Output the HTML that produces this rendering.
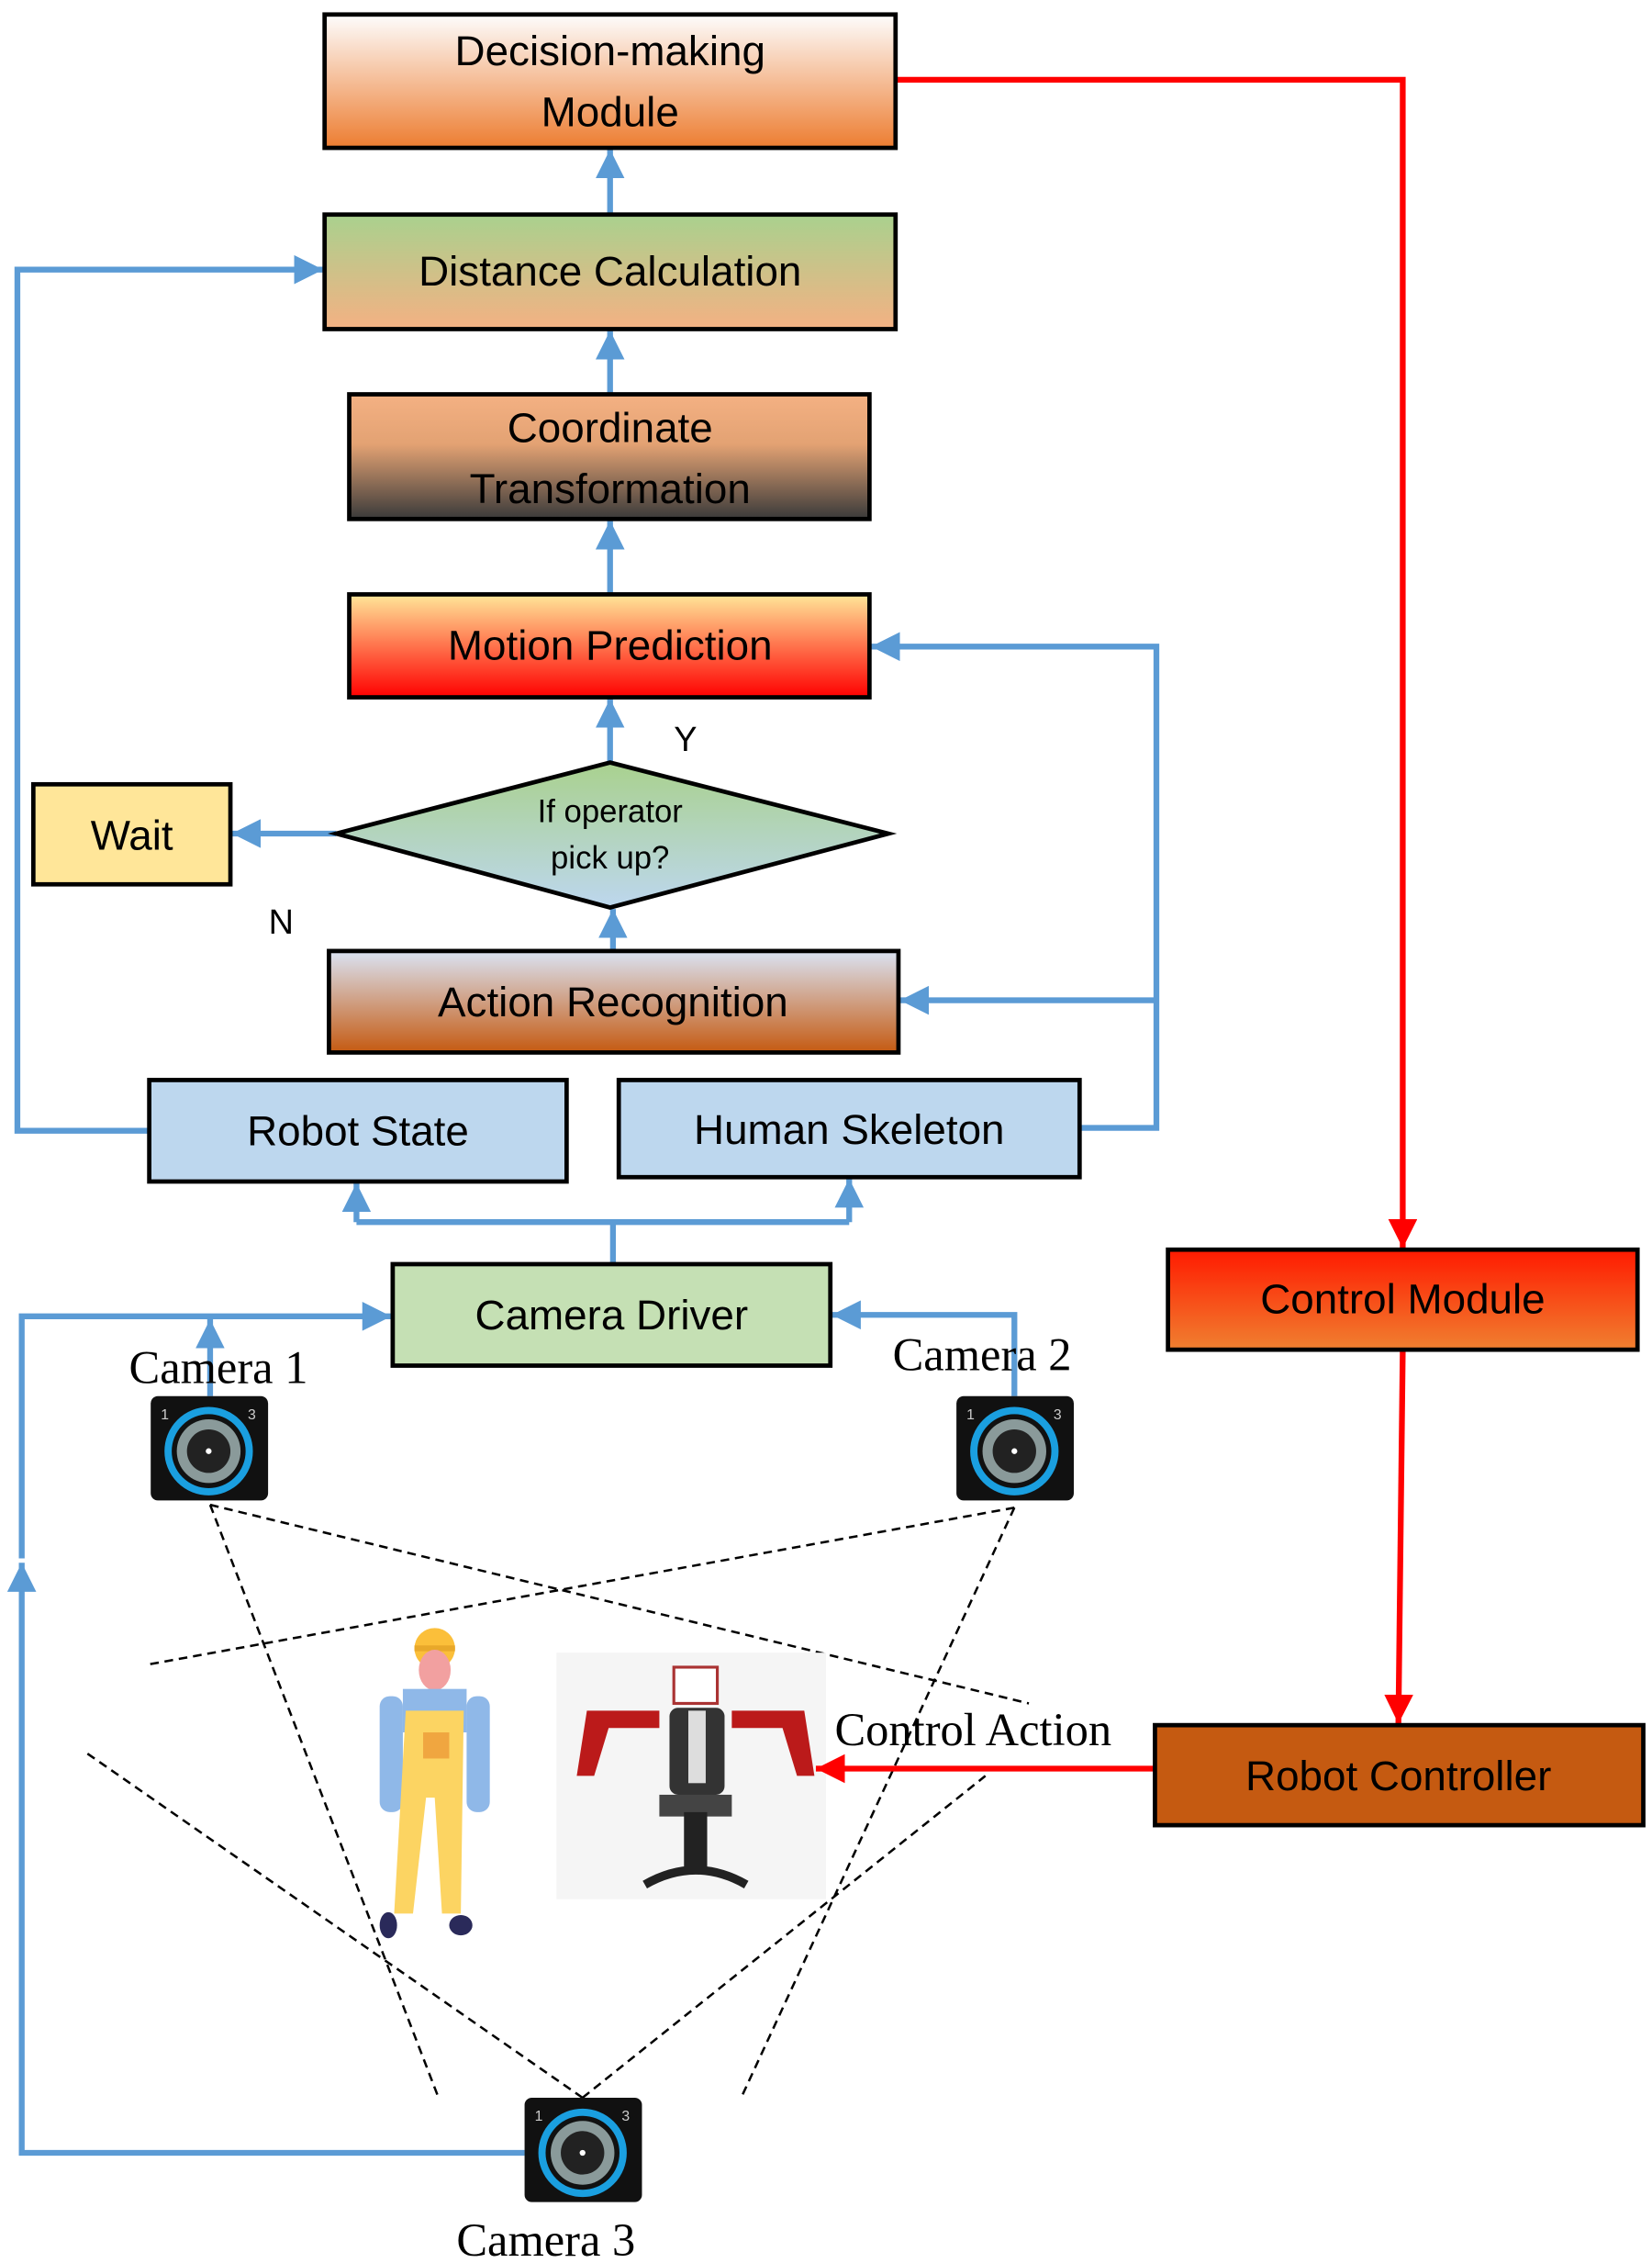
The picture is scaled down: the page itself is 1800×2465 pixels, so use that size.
<!DOCTYPE html>
<html><head><meta charset="utf-8"><style>html,body{margin:0;padding:0;background:#fff}svg{display:block}</style></head>
<body>
<svg width="1800" height="2465" viewBox="0 0 1140 1561" preserveAspectRatio="none" xmlns="http://www.w3.org/2000/svg">
<defs>
<linearGradient id="g1" x1="0" y1="0" x2="0" y2="1"><stop offset="0" stop-color="#fdfdfd"/><stop offset="1" stop-color="#ED7D31"/></linearGradient>
<linearGradient id="g2" x1="0" y1="0" x2="0" y2="1"><stop offset="0" stop-color="#A9D18E"/><stop offset="1" stop-color="#F4B183"/></linearGradient>
<linearGradient id="g3" x1="0" y1="0" x2="0" y2="1"><stop offset="0" stop-color="#F4B183"/><stop offset="0.4" stop-color="#E3A273"/><stop offset="1" stop-color="#3a3a3a"/></linearGradient>
<linearGradient id="g4" x1="0" y1="0" x2="0" y2="1"><stop offset="0" stop-color="#FFE699"/><stop offset="1" stop-color="#FF0000"/></linearGradient>
<linearGradient id="g5" x1="0" y1="0" x2="0" y2="1"><stop offset="0" stop-color="#A9D18E"/><stop offset="1" stop-color="#BDD7EE"/></linearGradient>
<linearGradient id="g6" x1="0" y1="0" x2="0" y2="1"><stop offset="0" stop-color="#DAE3F3"/><stop offset="1" stop-color="#C55A11"/></linearGradient>
<linearGradient id="g7" x1="0" y1="0" x2="0" y2="1"><stop offset="0" stop-color="#FF1A00"/><stop offset="1" stop-color="#F08030"/></linearGradient>
<marker id="ab" markerWidth="5" markerHeight="5" refX="5" refY="2.5" orient="auto" markerUnits="strokeWidth"><path d="M0,0 L5,2.5 L0,5 z" fill="#5B9BD5"/></marker>
<marker id="ar" markerWidth="5" markerHeight="5" refX="5" refY="2.5" orient="auto" markerUnits="strokeWidth"><path d="M0,0 L5,2.5 L0,5 z" fill="#FF0000"/></marker>
<g id="cam">
<rect x="0" y="0" width="81" height="72" rx="5" fill="#111"/>
<circle cx="40" cy="38" r="28" fill="none" stroke="#1a9fe0" stroke-width="5"/>
<circle cx="40" cy="38" r="22" fill="#8a9a9a"/>
<circle cx="40" cy="38" r="15" fill="#222"/>
<circle cx="40" cy="38" r="2" fill="#fff"/>
<text x="7" y="16" font-size="10" fill="#ccc" font-family="Liberation Sans,sans-serif">1</text>
<text x="67" y="16" font-size="10" fill="#ccc" font-family="Liberation Sans,sans-serif">3</text>
</g>
</defs>

<g stroke="#000" stroke-width="1.6" stroke-dasharray="6,4" fill="none">
<line x1="145" y1="1038" x2="710" y2="1175"/>
<line x1="700" y1="1040" x2="103" y2="1148"/>
<line x1="145" y1="1038" x2="303" y2="1448"/>
<line x1="700" y1="1040" x2="511" y2="1448"/>
<line x1="402" y1="1447" x2="58" y2="1208"/>
<line x1="402" y1="1447" x2="680" y2="1225"/>
</g>

<g>
<circle cx="300" cy="1137" r="14" fill="#FBBF3A"/>
<rect x="286" y="1135" width="28" height="4" fill="#E8A82A"/>
<ellipse cx="300" cy="1152" rx="11" ry="14" fill="#F2A0A0"/>
<rect x="278" y="1165" width="44" height="30" fill="#8FB8E8"/>
<rect x="262" y="1170" width="16" height="80" rx="7" fill="#8FB8E8"/>
<rect x="322" y="1170" width="16" height="80" rx="7" fill="#8FB8E8"/>
<polygon points="280,1180 320,1180 318,1320 305,1320 300,1240 294,1240 285,1320 272,1320" fill="#FCD462"/>
<rect x="292" y="1195" width="18" height="18" fill="#F0A640"/>
<ellipse cx="268" cy="1328" rx="6" ry="9" fill="#2a2a5a"/>
<ellipse cx="318" cy="1328" rx="8" ry="7" fill="#2a2a5a"/>
</g>

<g>
<rect x="384" y="1140" width="186" height="170" fill="#f5f5f5"/>
<rect x="465" y="1150" width="30" height="25" fill="#fff" stroke="#a33" stroke-width="2"/>
<rect x="462" y="1178" width="38" height="60" rx="6" fill="#333"/>
<rect x="475" y="1180" width="12" height="50" fill="#ddd"/>
<polygon points="455,1180 405,1180 398,1225 410,1225 420,1192 455,1192" fill="#bb1a1a"/>
<polygon points="505,1180 555,1180 562,1225 550,1225 540,1192 505,1192" fill="#bb1a1a"/>
<rect x="455" y="1238" width="50" height="15" fill="#444"/>
<rect x="472" y="1250" width="16" height="40" fill="#222"/>
<path d="M445,1300 Q480,1280 515,1300" stroke="#222" stroke-width="6" fill="none"/>
</g>

<g stroke="#FF0000" stroke-width="4" fill="none">
<polyline points="618,55 968,55 968,861" marker-end="url(#ar)"/>
<line x1="968" y1="931" x2="965" y2="1189" marker-end="url(#ar)"/>
<line x1="797" y1="1220" x2="563" y2="1220" marker-end="url(#ar)"/>
</g>

<g stroke="#5B9BD5" stroke-width="4" fill="none">
<polyline points="103,780 12,780 12,186 223,186" marker-end="url(#ab)"/>
<polyline points="362,1485 15,1485 15,1078" marker-end="url(#ab)"/>
<polyline points="15,1075 15,908 270,908" marker-end="url(#ab)"/>
<line x1="145" y1="963" x2="145" y2="910" marker-end="url(#ab)"/>
<polyline points="700,963 700,907 574,907" marker-end="url(#ab)"/>
<line x1="423" y1="872" x2="423" y2="843"/>
<polyline points="246,843 586,843"/>
<line x1="246" y1="843" x2="246" y2="816" marker-end="url(#ab)"/>
<line x1="586" y1="843" x2="586" y2="813" marker-end="url(#ab)"/>
<polyline points="745,778 798,778 798,446 601,446" marker-end="url(#ab)"/>
<line x1="798" y1="690" x2="621" y2="690" marker-end="url(#ab)"/>
<line x1="423" y1="656" x2="423" y2="627" marker-end="url(#ab)"/>
<line x1="421" y1="526" x2="421" y2="482" marker-end="url(#ab)"/>
<line x1="232" y1="575" x2="160" y2="575" marker-end="url(#ab)"/>
<line x1="421" y1="410" x2="421" y2="359" marker-end="url(#ab)"/>
<line x1="421" y1="272" x2="421" y2="228" marker-end="url(#ab)"/>
<line x1="421" y1="148" x2="421" y2="103" marker-end="url(#ab)"/>
</g>

<g stroke="#000" stroke-width="3">
<rect x="224" y="10" width="394" height="92" fill="url(#g1)"/>
<rect x="224" y="148" width="394" height="79" fill="url(#g2)"/>
<rect x="241" y="272" width="359" height="86" fill="url(#g3)"/>
<rect x="241" y="410" width="359" height="71" fill="url(#g4)"/>
<polygon points="232,575 421,526 613,575 421,626" fill="url(#g5)"/>
<rect x="23" y="541" width="136" height="69" fill="#FFE699"/>
<rect x="227" y="656" width="393" height="70" fill="url(#g6)"/>
<rect x="103" y="745" width="288" height="70" fill="#BDD7EE"/>
<rect x="427" y="745" width="318" height="67" fill="#BDD7EE"/>
<rect x="271" y="872" width="302" height="70" fill="#C5E0B4"/>
<rect x="806" y="862" width="324" height="69" fill="url(#g7)"/>
<rect x="797" y="1190" width="337" height="69" fill="#C55A11"/>
</g>
<g font-family="Liberation Sans,sans-serif" font-size="29" fill="#000" text-anchor="middle">
<text x="421" y="45">Decision-making</text>
<text x="421" y="87">Module</text>
<text x="421" y="197">Distance Calculation</text>
<text x="421" y="305">Coordinate</text>
<text x="421" y="347">Transformation</text>
<text x="421" y="455">Motion Prediction</text>
<text x="421" y="567" font-size="22">If operator</text>
<text x="421" y="599" font-size="22">pick up?</text>
<text x="91" y="586">Wait</text>
<text x="423" y="701">Action Recognition</text>
<text x="247" y="790">Robot State</text>
<text x="586" y="789">Human Skeleton</text>
<text x="422" y="917">Camera Driver</text>
<text x="968" y="906">Control Module</text>
<text x="965" y="1235">Robot Controller</text>
<text x="473" y="518" font-size="24">Y</text>
<text x="194" y="644" font-size="24">N</text>
</g>

<use href="#cam" x="104" y="963"/>
<use href="#cam" x="660" y="963"/>
<use href="#cam" x="362" y="1447"/>

<g font-family="Liberation Serif,serif" font-size="32" fill="#000">
<text x="89" y="954">Camera 1</text>
<text x="616" y="945">Camera 2</text>
<text x="315" y="1556">Camera 3</text>
<text x="576" y="1204">Control Action</text>
</g>
</svg>
</body></html>
